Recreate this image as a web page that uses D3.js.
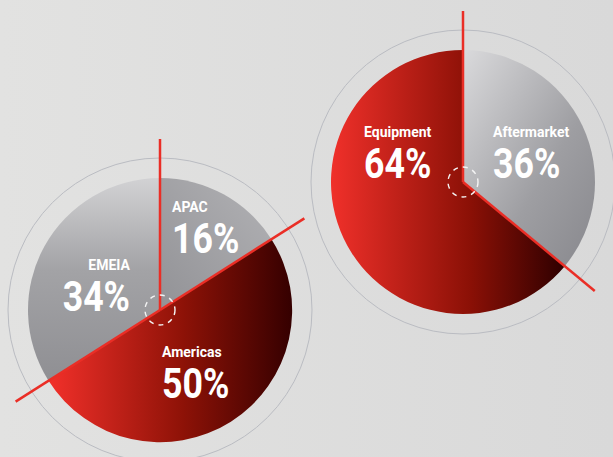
<!DOCTYPE html>
<html>
<head>
<meta charset="utf-8">
<script src="https://cdn.jsdelivr.net/npm/d3@7"></script>
<style>
  html, body { margin: 0; padding: 0; background: #dedede; }
  svg { display: block; }
  text { font-family: Roboto, "Noto Sans", sans-serif; fill: #fff; font-weight: bold; }
</style>
</head>
<body>
<div id="result"></div>
<script>
/* Data */
var regionNames = ["APAC", "Americas", "EMEIA"];
var regionShare = [16, 50, 34];
var segmentNames = ["Aftermarket", "Equipment"];
var segmentShare = [36, 64];

var width = 613, height = 457;
var radius = 132, ringRadius = 152, rayLength = 171;

var svg = d3.select("#result").append("svg")
    .attr("width", width)
    .attr("height", height);

var defs = svg.append("defs");

function linGrad(id, x1, y1, x2, y2, stops) {
    var g = defs.append("linearGradient").attr("id", id)
        .attr("x1", x1).attr("y1", y1).attr("x2", x2).attr("y2", y2);
    stops.forEach(function (s) {
        g.append("stop").attr("offset", s[0]).attr("stop-color", s[1]);
    });
}

// background + fills
linGrad("bg", "0", "0", "1", "0", [[0, "#e2e2e1"], [1, "#d9d9d9"]]);
linGrad("redL", "0", "0", "1", "0", [[0, "#f2302a"], [0.55, "#8e1207"], [1, "#350000"]]);
linGrad("redR", "0", "0", "1", "0", [[0, "#f0302a"], [0.6, "#8a1006"], [1, "#2e0000"]]);
linGrad("grayV", "0", "0", "0", "1", [[0, "#d2d2d4"], [0.45, "#a3a3a6"], [1, "#8f8f93"]]);
linGrad("grayA", "0", "1", "1", "0", [[0, "#929296"], [1, "#b2b2b5"]]);
linGrad("grayD", "0", "0", "1", "1", [[0, "#dadadc"], [0.6, "#9e9ea2"], [1, "#88888d"]]);

svg.append("rect").attr("width", width).attr("height", height).attr("fill", "url(#bg)");

var pie = d3.pie().sort(null).value(function (d) { return d.value; });
var arc = d3.arc().innerRadius(0).outerRadius(radius);

// label layout: offset of label baseline from pie centre, and anchor
function drawPie(cx, cy, names, values, fills, labelPos) {
    var data = names.map(function (n, i) { return { name: n, value: values[i] }; });
    var arcs = pie(data);
    var g = svg.append("g").attr("transform", "translate(" + cx + "," + cy + ")");

    g.append("circle").attr("r", ringRadius)
        .attr("fill", "none").attr("stroke", "#babcc2").attr("stroke-width", 1);

    g.selectAll("path.slice").data(arcs).enter().append("path")
        .attr("class", "slice")
        .attr("d", arc)
        .attr("fill", function (d, i) { return fills[i]; });

    // red rays on every slice boundary
    g.selectAll("line.ray").data(arcs).enter().append("line")
        .attr("class", "ray")
        .attr("x1", 0).attr("y1", 0)
        .attr("x2", function (d) { return rayLength * Math.sin(d.startAngle); })
        .attr("y2", function (d) { return -rayLength * Math.cos(d.startAngle); })
        .attr("stroke", "#ea2e26").attr("stroke-width", 2.5);

    g.append("circle").attr("r", 15)
        .attr("fill", "none").attr("stroke", "#f4f4f4")
        .attr("stroke-width", 1.4).attr("stroke-dasharray", "5,5");

    var lab = g.selectAll("g.lab").data(arcs).enter().append("g")
        .attr("class", "lab")
        .attr("transform", function (d, i) {
            return "translate(" + labelPos[i][0] + "," + labelPos[i][1] + ")";
        });
    lab.append("text")
        .attr("text-anchor", function (d, i) { return labelPos[i][2]; })
        .style("font-size", "14px")
        .text(function (d) { return d.data.name; });
    lab.append("text")
        .attr("transform", "translate(0,41) scale(0.85,1)")
        .attr("text-anchor", function (d, i) { return labelPos[i][2]; })
        .style("font-size", "42px")
        .text(function (d) { return d.data.value + "%"; });
}

drawPie(160, 310, regionNames, regionShare,
    ["url(#grayA)", "url(#redL)", "url(#grayV)"],
    [[12, -98, "start"], [2, 47, "start"], [-30, -40, "end"]]);

drawPie(463, 182, segmentNames, segmentShare,
    ["url(#grayD)", "url(#redR)"],
    [[30, -45, "start"], [-99, -45, "start"]]);
</script>
</body>
</html>
